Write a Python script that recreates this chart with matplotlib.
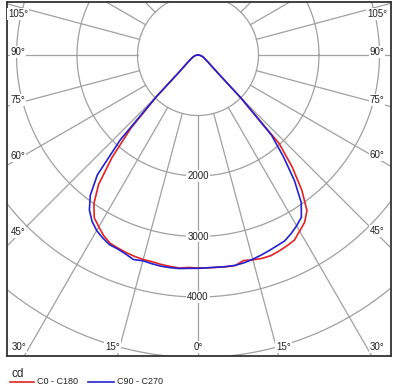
import numpy as np
import matplotlib.pyplot as plt
from matplotlib.lines import Line2D

# luminous intensity distribution (cd)
gamma = [0, 2.5, 5, 7.5, 10, 12.5, 15, 17.5, 20, 22.5, 25, 27.5, 30, 32.5, 35,
         37.5, 40, 42.5, 45, 47.5, 50, 55, 60, 70, 80, 90]
c0 = [3520, 3522, 3524, 3530, 3534, 3480, 3505, 3525, 3528, 3506, 3480, 3450, 3360,
      3280, 3140, 2820, 2430, 1990, 1005, 470, 320, 200, 140, 85, 40, 10]
c180 = [3520, 3515, 3535, 3525, 3515, 3500, 3500, 3490, 3475, 3455, 3435, 3370, 3280,
        3190, 3000, 2700, 2210, 1650, 960, 450, 310, 200, 140, 85, 40, 10]
c90 = [3521, 3520, 3521, 3528, 3531, 3518, 3495, 3468, 3440, 3413, 3390, 3330, 3260,
       3180, 2975, 2620, 2200, 1800, 1000, 470, 320, 200, 140, 85, 40, 10]
c270 = [3526, 3530, 3543, 3545, 3544, 3533, 3521, 3545, 3500, 3470, 3460, 3410, 3350,
        3260, 3130, 2925, 2590, 1900, 970, 450, 320, 200, 140, 85, 40, 10]

rings = [1000, 2000, 3000, 4000, 5000, 6000, 7000]
ring_labels = [2000, 3000, 4000]
label_angles = [0, 15, 30, 45, 60, 75, 90, 105]

W, H = 397, 388
px = 0.0605  # pixels per cd
cx, cy = 198, 55
box = (7, 2, 391, 356)  # left, top, right, bottom in pixels

fig = plt.figure(figsize=(W / 100, H / 100), dpi=100)
ax = fig.add_axes([box[0] / W, 1 - box[3] / H, (box[2] - box[0]) / W, (box[3] - box[1]) / H])
ax.set_xlim((box[0] - cx) / px, (box[2] - cx) / px)
ax.set_ylim(-(box[3] - cy) / px, (cy - box[1]) / px)
ax.set_aspect('equal')
ax.set_xticks([])
ax.set_yticks([])
for sp in ax.spines.values():
    sp.set_color('#333333')
    sp.set_linewidth(1.3)

grid = '#a0a0a0'
t = np.linspace(0, 2 * np.pi, 400)
for r in rings:
    ax.plot(r * np.cos(t), r * np.sin(t), color=grid, lw=0.9, zorder=1)
for a in range(0, 360, 15):
    ra = np.radians(a)
    ax.plot([1000 * np.sin(ra), 9000 * np.sin(ra)], [-1000 * np.cos(ra), -9000 * np.cos(ra)],
            color=grid, lw=0.9, zorder=1)

font = dict(family='Liberation Sans', fontsize=7, color='#222222')
for r in ring_labels:
    ax.text(0, -r, str(r), ha='center', va='center', zorder=3,
            bbox=dict(facecolor='white', edgecolor='none', pad=0.6), **font)

xl, xr = ax.get_xlim()
yb, yt = ax.get_ylim()
for a in label_angles:
    for sgn in ([1] if a == 0 else [-1, 1]):
        ra = np.radians(a * sgn)
        s, c = np.sin(ra), -np.cos(ra)
        xb = yb / c * s if c < 0 else None
        if xb is not None and xl <= xb <= xr:
            x = xb + np.sign(s) * 5 / px
            y = yb + 9 / px
        else:
            x = xl + 11 / px if s < 0 else xr - 14 / px
            y = x / s * c + 3 / px
            y = min(y, yt - 12 / px)
        ax.text(x, y, f'{a}°', ha='center', va='center', zorder=3,
                bbox=dict(facecolor='white', edgecolor='none', pad=0.6), **font)


def curve(left, right):
    th = np.radians(np.concatenate([-np.array(gamma[::-1]), np.array(gamma[1:])]))
    r = np.concatenate([np.array(left[::-1]), np.array(right[1:])])
    return r * np.sin(th), -r * np.cos(th)


red = '#e42222'
blue = '#2222d2'
x, y = curve(c180, c0)
ax.plot(x, y, color=red, lw=1.2, zorder=2)
x, y = curve(c270, c90)
ax.plot(x, y, color=blue, lw=1.2, zorder=2)

# unit and legend below the diagram
fig.text(12 / W, 1 - 374 / H, 'cd', family='Liberation Sans', fontsize=8.5, color='#222222',
         va='center', ha='left')
ly = 1 - 382 / H
fig.add_artist(Line2D([10 / W, 34 / W], [ly, ly], color=red, lw=1.2))
fig.text(37 / W, ly, 'C0 - C180', family='Liberation Sans', fontsize=6.5, color='#222222', va='center')
fig.add_artist(Line2D([88 / W, 114 / W], [ly, ly], color=blue, lw=1.2))
fig.text(117 / W, ly, 'C90 - C270', family='Liberation Sans', fontsize=6.5, color='#222222', va='center')

fig.savefig('out.png', dpi=100)
